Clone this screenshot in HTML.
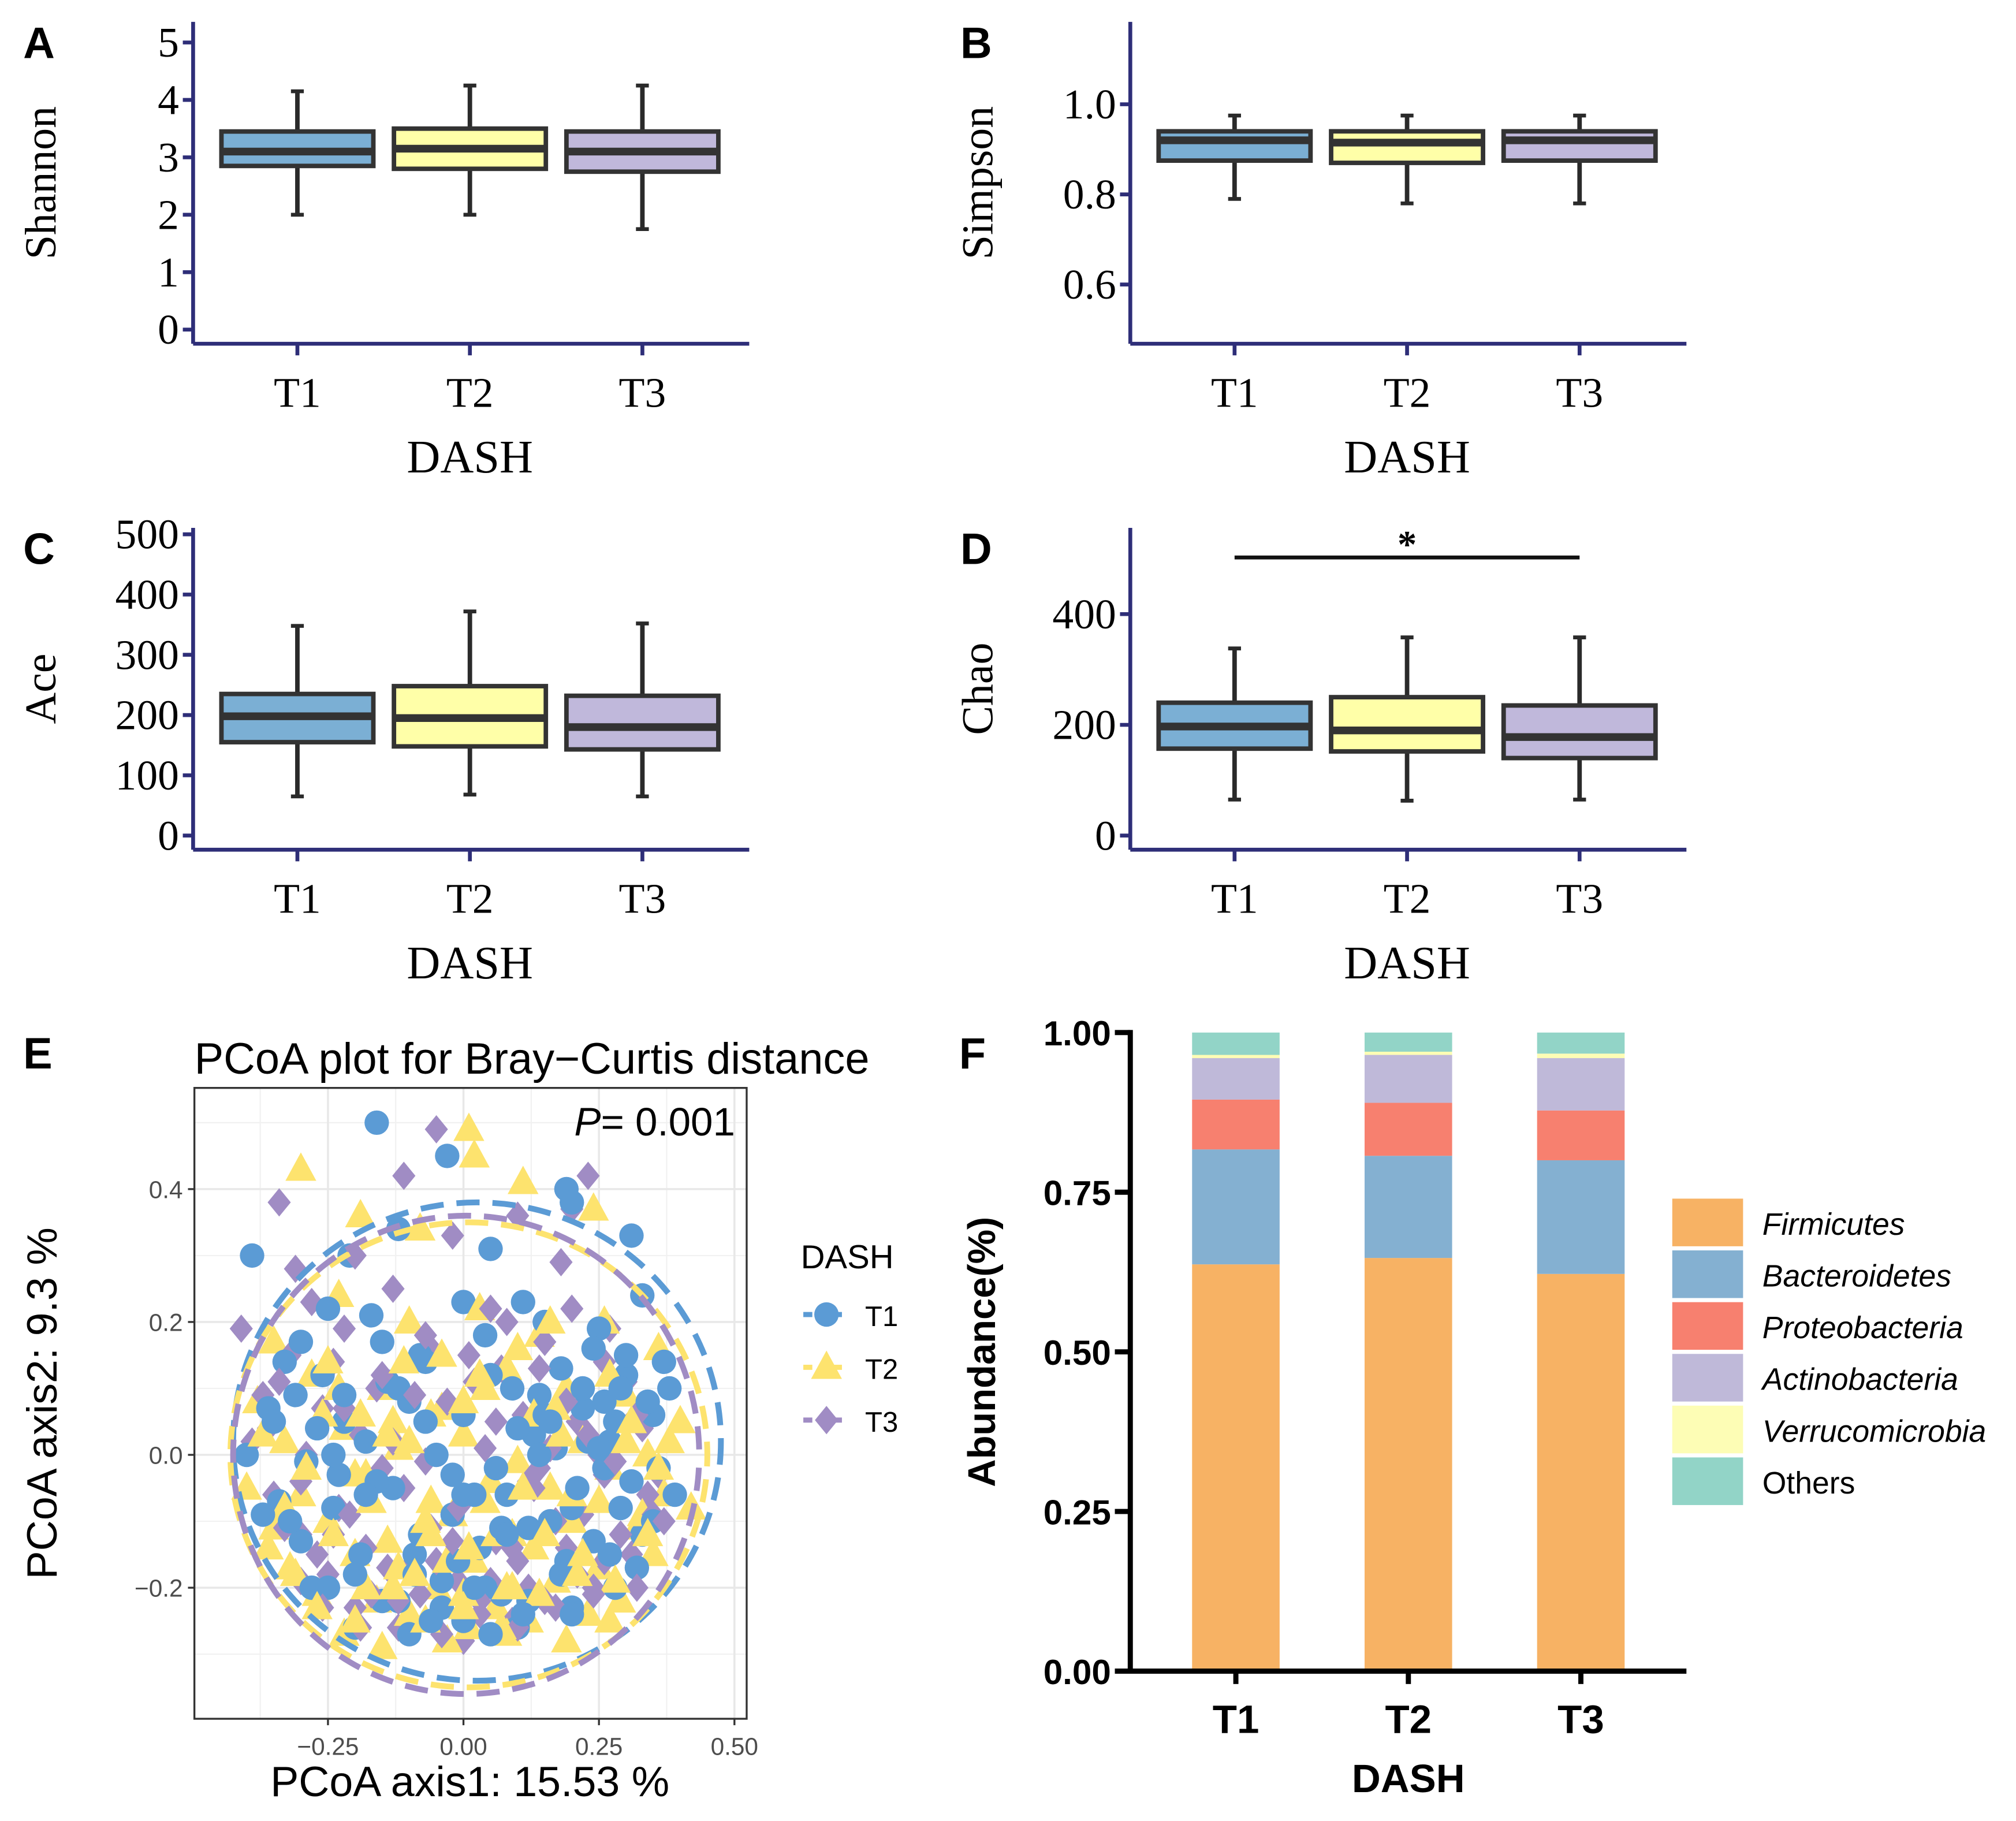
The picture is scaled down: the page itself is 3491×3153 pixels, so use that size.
<!DOCTYPE html>
<html><head><meta charset="utf-8"><style>
html,body{margin:0;padding:0;background:#fff;}
svg{display:block;}
.serif{font-family:"Liberation Serif",serif;}
.sans{font-family:"Liberation Sans",sans-serif;}
</style></head><body>
<svg id="fig" width="3491" height="3153" viewBox="0 0 1566 1414.4" xmlns="http://www.w3.org/2000/svg">
<g id="root"></g>
</svg>
<script>
// ---------- DATA ----------
const groups = ["T1","T2","T3"];
const boxFill = ["#7BAFD4","#FFFFA8","#C0B8DB"];
// Shannon
const shQ1=[2.85,2.8,2.75], shMed=[3.1,3.15,3.1], shQ3=[3.45,3.5,3.45], shLo=[2.0,2.0,1.75], shHi=[4.15,4.25,4.25];
const shTicks=[0,1,2,3,4,5];
// Simpson
const siQ1=[0.875,0.87,0.875], siMed=[0.92,0.915,0.92], siQ3=[0.94,0.94,0.94], siLo=[0.79,0.78,0.78], siHi=[0.975,0.975,0.975];
const siTicks=[0.6,0.8,1.0];
// Ace
const acQ1=[155,148,143], acMed=[198,195,180], acQ3=[235,248,232], acLo=[65,68,65], acHi=[348,372,352];
const acTicks=[0,100,200,300,400,500];
// Chao
const chQ1=[157,152,140], chMed=[197,190,178], chQ3=[240,250,235], chLo=[65,63,65], chHi=[338,358,358];
const chTicks=[0,200,400];
// PCoA
const pcX1=[-0.16,-0.03,0.19,-0.21,0.05,0.2,-0.12,0.0,0.11,0.31,-0.39,-0.25,-0.17,0.04,0.15,0.25,0.33,-0.33,-0.26,-0.08,0.09,0.18,0.3,0.37,-0.36,-0.22,-0.1,0.0,0.13,0.22,0.28,0.35,-0.4,-0.29,-0.18,-0.05,0.06,0.17,0.27,0.36,-0.34,-0.24,-0.13,-0.02,0.08,0.2,0.31,0.39,-0.3,-0.19,-0.08,0.03,0.12,0.24,0.33,-0.25,-0.15,-0.04,0.07,0.18,0.28,-0.2,-0.1,0.0,0.1,0.2,-0.12,-0.02,0.05,0.14,0.26,0.38,-0.37,0.32,
 -0.31,-0.27,-0.23,-0.14,-0.07,0.02,0.1,0.16,0.23,0.29,0.34,0.26,0.21,0.14,0.07,-0.01,-0.09,-0.16,-0.24,-0.32,-0.35,-0.28,-0.2,-0.12,-0.04,0.04,0.12,0.19,0.27,0.35,0.3,0.22,0.15,0.08,0.0,-0.07,-0.15,-0.22,-0.3,-0.18,-0.09,0.02,0.11,0.2,0.25,-0.06,0.05,0.16,0.24,0.29];
const pcY1=[0.5,0.45,0.4,0.3,0.31,0.38,0.34,0.23,0.23,0.33,0.3,0.22,0.21,0.18,0.2,0.19,0.24,0.14,0.12,0.15,0.1,0.13,0.12,0.14,0.07,0.05,0.08,0.06,0.03,0.07,0.05,0.06,0.0,-0.01,0.02,0.0,-0.02,0.01,0.02,-0.02,-0.07,-0.08,-0.05,-0.09,-0.06,-0.08,-0.04,-0.06,-0.13,-0.15,-0.12,-0.14,-0.11,-0.13,-0.12,-0.2,-0.22,-0.19,-0.21,-0.18,-0.2,-0.26,-0.27,-0.25,-0.26,-0.23,0.1,-0.03,0.12,0.09,0.08,0.1,-0.09,-0.17,
 0.09,0.04,-0.03,0.11,0.05,-0.06,0.04,-0.1,0.02,0.1,0.08,-0.02,-0.05,0.0,-0.11,-0.16,-0.15,-0.04,0.0,-0.1,0.05,-0.2,-0.18,-0.22,-0.23,-0.2,-0.22,-0.16,-0.15,-0.1,0.15,0.1,0.06,-0.12,-0.06,0.14,0.17,0.09,0.17,-0.06,-0.18,-0.2,-0.24,-0.24,0.01,-0.25,-0.27,0.05,0.16,-0.08];
const pcX2=[0.01,-0.3,0.02,-0.19,-0.08,0.24,0.11,-0.35,-0.23,-0.1,0.03,0.14,0.26,0.36,-0.38,-0.28,-0.15,-0.04,0.08,0.19,0.3,0.4,-0.33,-0.22,-0.12,0.0,0.1,0.22,0.34,-0.4,-0.3,-0.18,-0.06,0.05,0.16,0.27,0.37,-0.35,-0.25,-0.14,-0.02,0.09,0.2,0.32,0.42,-0.32,-0.2,-0.09,0.02,0.13,0.25,0.35,-0.27,-0.16,-0.05,0.06,0.17,0.29,-0.22,-0.1,0.01,0.12,0.23,-0.15,-0.03,0.08,0.19,-0.06,0.04,
 -0.37,-0.33,-0.26,-0.2,-0.13,-0.07,0.0,0.06,0.13,0.2,0.27,0.33,0.38,-0.36,-0.29,-0.23,-0.17,-0.1,-0.03,0.04,0.11,0.18,0.25,0.31,-0.31,-0.24,-0.18,-0.12,-0.06,0.01,0.08,0.15,0.22,0.28,0.34,-0.27,-0.2,-0.13,-0.07,0.0,0.07,0.14,0.21,0.27,-0.19,-0.11,-0.04,0.03,0.1,0.17,-0.09,0.0,0.09,-0.25,0.3,0.36,-0.14,0.16];
const pcY2=[0.49,0.43,0.45,0.36,0.34,0.37,0.41,0.17,0.24,0.2,0.22,0.18,0.2,0.16,0.08,0.12,0.1,0.07,0.13,0.1,0.09,0.05,0.02,0.04,0.01,0.03,-0.01,0.02,0.0,-0.05,-0.06,-0.03,-0.07,-0.04,-0.05,-0.02,-0.06,-0.11,-0.1,-0.13,-0.09,-0.12,-0.1,-0.11,-0.08,-0.17,-0.15,-0.18,-0.16,-0.14,-0.17,-0.15,-0.21,-0.22,-0.2,-0.23,-0.19,-0.22,-0.27,-0.24,-0.26,-0.25,-0.24,-0.29,-0.28,-0.27,-0.28,0.06,-0.07,
 0.03,-0.08,0.06,-0.03,0.05,-0.1,0.08,-0.12,0.06,-0.06,0.12,-0.09,0.02,-0.14,-0.02,0.1,-0.07,0.02,-0.16,0.1,-0.05,0.03,-0.07,0.05,-0.18,-0.12,-0.2,-0.17,-0.12,-0.14,-0.2,-0.12,-0.15,-0.19,-0.12,-0.23,-0.25,-0.2,-0.25,-0.21,-0.26,-0.21,-0.18,-0.25,0.06,0.14,0.15,0.12,0.16,0.07,-0.18,-0.23,-0.2,0.14,0.02,-0.02,0.03,0.2];
const pcX3=[-0.05,-0.11,0.23,0.2,-0.34,-0.2,-0.02,0.1,0.18,-0.28,-0.13,0.05,0.27,-0.41,-0.32,-0.24,-0.06,0.07,0.15,0.3,-0.37,-0.26,-0.16,-0.03,0.11,0.21,0.33,-0.39,-0.29,-0.19,-0.07,0.04,0.14,0.25,0.36,-0.35,-0.23,-0.11,0.0,0.12,0.22,0.34,-0.3,-0.18,-0.06,0.06,0.17,0.29,-0.25,-0.14,-0.01,0.1,0.21,0.31,-0.2,-0.08,0.03,0.15,0.24,-0.12,0.0,0.09,-0.31,0.26,
 -0.36,-0.3,-0.22,-0.15,-0.09,-0.01,0.06,0.13,0.19,0.26,0.32,-0.33,-0.27,-0.21,-0.13,-0.05,0.02,0.09,0.16,0.23,0.29,0.35,-0.3,-0.24,-0.17,-0.1,-0.02,0.05,0.12,0.19,0.26,0.32,-0.26,-0.19,-0.12,-0.04,0.03,0.1,0.17,0.24,-0.15,-0.07,0.01,0.08,0.14,-0.22,0.2,0.28,-0.34,0.37];
const pcY3=[0.49,0.42,0.42,0.37,0.38,0.3,0.33,0.36,0.29,0.23,0.25,0.22,0.19,0.19,0.15,0.14,0.16,0.13,0.17,0.11,0.09,0.07,0.1,0.08,0.06,0.05,0.04,0.02,0.0,0.03,-0.01,0.01,-0.02,0.0,-0.03,-0.06,-0.08,-0.05,-0.07,-0.04,-0.09,-0.06,-0.12,-0.14,-0.11,-0.13,-0.1,-0.12,-0.18,-0.17,-0.19,-0.16,-0.18,-0.15,-0.23,-0.21,-0.24,-0.22,-0.2,-0.26,-0.28,-0.25,0.28,0.14,
 0.04,-0.04,0.07,-0.02,0.09,-0.08,0.05,-0.05,0.08,-0.03,0.06,-0.11,-0.15,-0.09,0.02,-0.16,0.11,-0.14,0.01,0.03,-0.12,-0.09,-0.19,-0.12,-0.21,-0.17,-0.13,-0.19,-0.2,-0.14,-0.16,-0.2,-0.23,-0.26,-0.22,-0.27,-0.22,-0.26,-0.23,-0.21,0.12,0.18,0.15,0.2,0.13,0.19,0.22,-0.01,0.11,-0.1];
const ellCx=[0.025,0.01,0.005], ellCy=[0.02,0.0,0.0], ellRx=[0.45,0.44,0.43], ellRy=[0.36,0.35,0.36];
const pcXTicks=[-0.25,0,0.25,0.5], pcXLabels=["\u22120.25","0.00","0.25","0.50"];
const pcYTicks=[-0.2,0,0.2,0.4], pcYLabels=["\u22120.2","0.0","0.2","0.4"];
// Abundance
const phyla=["Firmicutes","Bacteroidetes","Proteobacteria","Actinobacteria","Verrucomicrobia","Others"];
const phylaColor=["#F7B264","#84B0D1","#F7806F","#BFB9D9","#FDFDB5","#92D4C7"];
const abFirm=[0.637,0.647,0.622], abBact=[0.18,0.16,0.178], abProt=[0.078,0.083,0.078], abActi=[0.065,0.075,0.082], abVerr=[0.005,0.005,0.007], abOther=[0.035,0.03,0.033];
const abTicks=[0,0.25,0.5,0.75,1.0], abLabels=["0.00","0.25","0.50","0.75","1.00"];

// ---------- DRAW ----------
const NS="http://www.w3.org/2000/svg";
const root=document.getElementById('root');
function mk(tag,attrs,parent){const e=document.createElementNS(NS,tag);for(const k in attrs)e.setAttribute(k,attrs[k]);(parent||root).appendChild(e);return e;}
function txt(s,attrs,parent){const e=mk('text',attrs,parent);e.textContent=s;return e;}

const AX="#2E2E78";
function boxPanel(name,x0,letter,ylab,ticks,tickLab,y0v,y1v,py0,py1,axisY,q1,med,q3,lo,hi){
  const g=mk('g',{});
  
  
  const sy=v=>py0+(v-y0v)*(py1-py0)/(y1v-y0v);
  const cx=[x0+81,x0+215,x0+349];
  const L=txt(letter,{x:x0-132,y:axisY-222,'font-size':34,'font-weight':'bold',class:'sans'},g);
  
  const yl=txt(ylab,{x:0,y:0,'font-size':34,class:'serif','text-anchor':'middle',transform:`translate(${x0-107},${axisY-125}) rotate(-90)`},g);
  
  mk('line',{x1:x0,y1:axisY-250,x2:x0,y2:axisY,stroke:AX,'stroke-width':3},g);
  mk('line',{x1:x0,y1:axisY,x2:x0+432,y2:axisY,stroke:AX,'stroke-width':3},g);
  ticks.forEach((t,i)=>{const y=sy(t);
    mk('line',{x1:x0-8,y1:y,x2:x0,y2:y,stroke:AX,'stroke-width':3},g);
    const tl=txt(tickLab[i],{x:x0-11,y:y+11,'font-size':33,class:'serif','text-anchor':'end'},g);
    });
  groups.forEach((gn,i)=>{
    mk('line',{x1:cx[i],y1:axisY,x2:cx[i],y2:axisY+9,stroke:AX,'stroke-width':3},g);
    const xl=txt(gn,{x:cx[i],y:axisY+49,'font-size':33,class:'serif','text-anchor':'middle'},g);
    
    const bg=mk('g',{},g);
    
    mk('line',{x1:cx[i],y1:sy(lo[i]),x2:cx[i],y2:sy(hi[i]),stroke:'#2a2a2a','stroke-width':3.5},bg);
    mk('line',{x1:cx[i]-5,y1:sy(lo[i]),x2:cx[i]+5,y2:sy(lo[i]),stroke:'#2a2a2a','stroke-width':3},bg);
    mk('line',{x1:cx[i]-5,y1:sy(hi[i]),x2:cx[i]+5,y2:sy(hi[i]),stroke:'#2a2a2a','stroke-width':3},bg);
    mk('rect',{x:cx[i]-59,y:sy(q3[i]),width:118,height:sy(q1[i])-sy(q3[i]),fill:boxFill[i],stroke:'#333','stroke-width':3.5},bg);
    mk('line',{x1:cx[i]-59,y1:sy(med[i]),x2:cx[i]+59,y2:sy(med[i]),stroke:'#333','stroke-width':6},bg);
  });
  const xt=txt('DASH',{x:x0+215,y:axisY+100,'font-size':36,class:'serif','text-anchor':'middle'},g);
  
  return {g,sy,cx};
}
boxPanel('shannon',150,'A','Shannon',shTicks,shTicks.map(String),0,5,256,33,267,shQ1,shMed,shQ3,shLo,shHi);
boxPanel('simpson',878,'B','Simpson',siTicks,["0.6","0.8","1.0"],0.6,1.0,221,81,267,siQ1,siMed,siQ3,siLo,siHi);
boxPanel('ace',150,'C','Ace',acTicks,acTicks.map(String),0,500,649,415,660,acQ1,acMed,acQ3,acLo,acHi);
const D=boxPanel('chao',878,'D','Chao',chTicks,chTicks.map(String),0,400,649,477,660,chQ1,chMed,chQ3,chLo,chHi);
const sig=mk('g',{});

mk('line',{x1:D.cx[0],y1:433,x2:D.cx[2],y2:433,stroke:'#111','stroke-width':3},sig);
txt('*',{x:D.cx[1],y:433,'font-size':30,class:'serif','text-anchor':'middle','font-weight':'bold'},sig);

// ---- PCoA ----
const pg=mk('g',{});

const px=v=>360+v*421, py=v=>1130-v*516;
const PL=151,PR=580,PT=845,PB=1335;
const le=txt('E',{x:18,y:830,'font-size':34,'font-weight':'bold',class:'sans'},pg);

const pt=txt('PCoA plot for Bray\u2212Curtis distance',{x:151,y:834,'font-size':34,class:'sans'},pg);

const grid=mk('g',{},pg);

[-0.375,-0.125,0.125,0.375].forEach(v=>mk('line',{x1:px(v),y1:PT,x2:px(v),y2:PB,stroke:'#F1F1F1','stroke-width':1},grid));
[-0.3,-0.1,0.1,0.3,0.5].forEach(v=>mk('line',{x1:PL,y1:py(v),x2:PR,y2:py(v),stroke:'#F1F1F1','stroke-width':1},grid));
pcXTicks.forEach(v=>mk('line',{x1:px(v),y1:PT,x2:px(v),y2:PB,stroke:'#E8E8E8','stroke-width':1.6},grid));
pcYTicks.forEach(v=>mk('line',{x1:PL,y1:py(v),x2:PR,y2:py(v),stroke:'#E8E8E8','stroke-width':1.6},grid));
const pcCol=["#5B9BD5","#FDE36E","#A08CC4"];
function shape(k,x,y,par){
  if(k===0) return mk('circle',{cx:x,cy:y,r:9.5,fill:pcCol[0]},par);
  if(k===1) return mk('polygon',{points:`${x},${y-13} ${x+12},${y+9} ${x-12},${y+9}`,fill:pcCol[1]},par);
  return mk('polygon',{points:`${x},${y-11} ${x+9},${y} ${x},${y+11} ${x-9},${y}`,fill:pcCol[2]},par);
}
const sets=[[pcX1,pcY1],[pcX3,pcY3],[pcX2,pcY2]], setK=[0,2,1];
const maxN=Math.max(pcX1.length,pcX2.length,pcX3.length);
const pts=mk('g',{},pg);

for(let i=0;i<maxN;i++){
  for(let s=0;s<3;s++){const [xs,ys]=sets[s];if(i<xs.length){
    const p=shape(setK[s],px(xs[i]),py(ys[i]),pts);
    
    
  }}
}
for(let k=0;k<3;k++){
  const e=mk('ellipse',{cx:px(ellCx[k]),cy:py(ellCy[k]),rx:ellRx[k]*421,ry:ellRy[k]*516,fill:'none',stroke:pcCol[k],'stroke-width':4.5,'stroke-dasharray':'18 10','stroke-dashoffset':k*9},pg);
  
  
}
mk('rect',{x:PL,y:PT,width:PR-PL,height:PB-PT,fill:'none',stroke:'#333','stroke-width':1.5},pg);
const pv=txt('',{x:571,y:882,'font-size':31,class:'sans','text-anchor':'end'},pg);
pv.innerHTML='<tspan font-style="italic">P</tspan>= 0.001';

pcXTicks.forEach((v,i)=>{mk('line',{x1:px(v),y1:PB,x2:px(v),y2:PB+5,stroke:'#333','stroke-width':1.5},pg);
  const t=txt(pcXLabels[i],{x:px(v),y:PB+28,'font-size':19,class:'sans','text-anchor':'middle',fill:'#4d4d4d'},pg);
  });
pcYTicks.forEach((v,i)=>{mk('line',{x1:PL-5,y1:py(v),x2:PL,y2:py(v),stroke:'#333','stroke-width':1.5},pg);
  const t=txt(pcYLabels[i],{x:PL-9,y:py(v)+7,'font-size':19,class:'sans','text-anchor':'end',fill:'#4d4d4d'},pg);
  });
const pxl=txt('PCoA axis1:  15.53 %',{x:365,y:1395,'font-size':33,class:'sans','text-anchor':'middle'},pg);

const pyl=txt('PCoA axis2:  9.3 %',{x:0,y:0,'font-size':33,class:'sans','text-anchor':'middle',transform:'translate(44,1090) rotate(-90)'},pg);

const lg=mk('g',{},pg);

txt('DASH',{x:622,y:985,'font-size':26,class:'sans'},lg);
groups.forEach((gn,k)=>{const y=1021+k*41;
  const en=mk('g',{},lg);
  
  mk('line',{x1:624,y1:y,x2:654,y2:y,stroke:pcCol[k],'stroke-width':4,'stroke-dasharray':'7 5'},en);
  shape(k,642,y,en);
  txt(gn,{x:672,y:y+9,'font-size':22,class:'sans'},en);});

// ---- Stacked bar ----
const fg=mk('g',{});

const fy=v=>1298-v*496;
const fcx=[960,1094,1228];
const lf=txt('F',{x:745,y:830,'font-size':34,'font-weight':'bold',class:'sans'},fg);

const stacks=[abFirm,abBact,abProt,abActi,abVerr,abOther];
groups.forEach((gn,i)=>{let cum=0;
  stacks.forEach((arr,s)=>{const v=arr[i];
    const r=mk('rect',{x:fcx[i]-34,y:fy(cum+v),width:68,height:fy(cum)-fy(cum+v),fill:phylaColor[s]},fg);
    
    
    cum+=v;});
  if(cum<1){mk('rect',{x:fcx[i]-34,y:fy(1),width:68,height:fy(cum)-fy(1),fill:phylaColor[5]},fg);}
  mk('line',{x1:fcx[i],y1:1298,x2:fcx[i],y2:1308,stroke:'#000','stroke-width':4},fg);
  const t=txt(gn,{x:fcx[i],y:1346,'font-size':31,'font-weight':'bold',class:'sans','text-anchor':'middle'},fg);
  
});
mk('line',{x1:878,y1:800,x2:878,y2:1300,stroke:'#000','stroke-width':4},fg);
mk('line',{x1:876,y1:1298,x2:1310,y2:1298,stroke:'#000','stroke-width':4},fg);
abTicks.forEach((v,i)=>{mk('line',{x1:866,y1:fy(v),x2:878,y2:fy(v),stroke:'#000','stroke-width':4},fg);
  const t=txt(abLabels[i],{x:863,y:fy(v)+10,'font-size':27,'font-weight':'bold',class:'sans','text-anchor':'end'},fg);
  });
const fyl=txt('Abundance(%)',{x:0,y:0,'font-size':30,'font-weight':'bold',class:'sans','text-anchor':'middle',transform:'translate(773,1050) rotate(-90)'},fg);

const fxl=txt('DASH',{x:1094,y:1392,'font-size':31,'font-weight':'bold',class:'sans','text-anchor':'middle'},fg);

phyla.forEach((p,s)=>{const y=931+s*40.2;
  const en=mk('g',{},fg);
  
  mk('rect',{x:1299,y:y,width:55,height:37,fill:phylaColor[s]},en);
  txt(p,{x:1369,y:y+28,'font-size':24,class:'sans','font-style':p==='Others'?'normal':'italic'},en);});
</script>
</body></html>
